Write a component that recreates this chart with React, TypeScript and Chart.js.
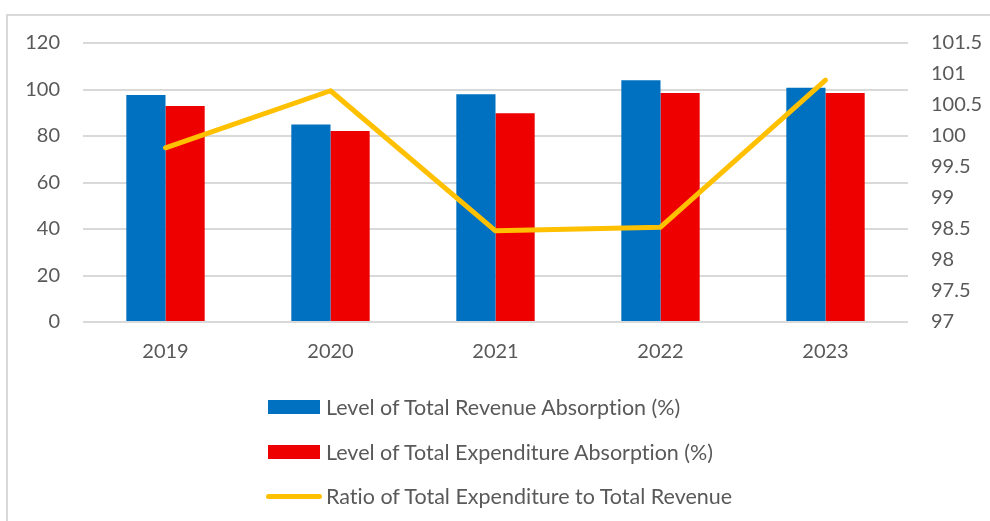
import React, { useEffect, useRef } from "react";
import { Chart, registerables } from "chart.js";

Chart.register(...registerables);

const years = ["2019", "2020", "2021", "2022", "2023"];
const revenueAbsorption = [97.6, 85.0, 98.0, 104.0, 100.7];
const expenditureAbsorption = [92.9, 82.2, 89.8, 98.5, 98.5];
const expenditureToRevenue = [99.81, 100.73, 98.47, 98.53, 100.9];
const seriesNames = [
  "Level of Total Revenue Absorption (%)",
  "Level of Total Expenditure Absorption (%)",
  "Ratio of Total Expenditure to Total Revenue",
];
const seriesColors = ["#0070C0", "#EE0000", "#FFC000"];

const FONT = "Lato, 'Open Sans', sans-serif";
const TEXT = "#595959";

export default function App() {
  const ref = useRef<HTMLCanvasElement | null>(null);

  useEffect(() => {
    document.body.style.margin = "0";
    const canvas = ref.current;
    if (!canvas) return;
    const chart = new Chart(canvas, {
      type: "bar",
      data: {
        labels: years,
        datasets: [
          {
            type: "line",
            label: seriesNames[2],
            data: expenditureToRevenue,
            borderColor: seriesColors[2],
            backgroundColor: seriesColors[2],
            borderWidth: 5,
            borderCapStyle: "round",
            borderJoinStyle: "round",
            pointRadius: 0,
            tension: 0,
            yAxisID: "y1",
            order: 0,
          } as any,
          {
            type: "bar",
            label: seriesNames[0],
            data: revenueAbsorption,
            backgroundColor: seriesColors[0],
            yAxisID: "y",
            order: 1,
            categoryPercentage: 0.475,
            barPercentage: 1,
          },
          {
            type: "bar",
            label: seriesNames[1],
            data: expenditureAbsorption,
            backgroundColor: seriesColors[1],
            yAxisID: "y",
            order: 1,
            categoryPercentage: 0.475,
            barPercentage: 1,
          },
        ],
      },
      options: {
        responsive: false,
        devicePixelRatio: 1,
        animation: false,
        layout: { padding: { top: 43, bottom: 159, left: 0, right: 0 } },
        plugins: {
          legend: { display: false },
          tooltip: { enabled: false },
        },
        scales: {
          x: {
            grid: { display: false, drawTicks: false },
            border: { display: false },
            ticks: { padding: 18, color: TEXT, font: { family: FONT, size: 20 } },
            afterFit: (s: any) => {
              s.height = 40;
            },
          },
          y: {
            position: "left",
            min: 0,
            max: 120,
            ticks: {
              stepSize: 20,
              padding: 23,
              color: TEXT,
              font: { family: FONT, size: 20 },
            },
            grid: { color: "#D9D9D9", lineWidth: 2, drawTicks: false },
            border: { display: false },
            afterFit: (s: any) => {
              s.width = 83;
            },
          },
          y1: {
            position: "right",
            min: 97,
            max: 101.5,
            ticks: {
              stepSize: 0.5,
              padding: 23,
              color: TEXT,
              font: { family: FONT, size: 20 },
              callback: (v: any) => String(v),
            },
            grid: { display: false, drawTicks: false },
            border: { display: false },
            afterFit: (s: any) => {
              s.width = 82;
            },
          },
        },
      },
    });
    return () => chart.destroy();
  }, []);

  const rowTops = [407, 452, 496];

  return (
    <div
      style={{
        position: "relative",
        width: 990,
        height: 521,
        overflow: "hidden",
        background: "#fff",
      }}
    >
      <div
        style={{
          position: "absolute",
          left: 6,
          top: 14,
          width: 1000,
          height: 600,
          border: "2px solid #D9D9D9",
        }}
      />
      <canvas
        ref={ref}
        width={990}
        height={521}
        style={{ position: "absolute", left: 0, top: 0, width: 990, height: 521 }}
      />
      {seriesNames.map((name, i) => (
        <div
          key={name}
          style={{
            position: "absolute",
            left: 266,
            top: rowTops[i] - 15,
            height: 30,
            display: "flex",
            alignItems: "center",
            fontFamily: FONT,
            fontSize: 21.5,
            fontVariantLigatures: "none",
            color: TEXT,
            whiteSpace: "nowrap",
          }}
        >
          {i < 2 ? (
            <span
              style={{
                display: "inline-block",
                width: 52,
                height: 14,
                marginLeft: 2,
                background: seriesColors[i],
              }}
            />
          ) : (
            <span
              style={{
                display: "inline-block",
                width: 56,
                height: 5,
                borderRadius: 3,
                background: seriesColors[i],
              }}
            />
          )}
          <span style={{ marginLeft: i < 2 ? 6 : 4 }}>{name}</span>
        </div>
      ))}
    </div>
  );
}
